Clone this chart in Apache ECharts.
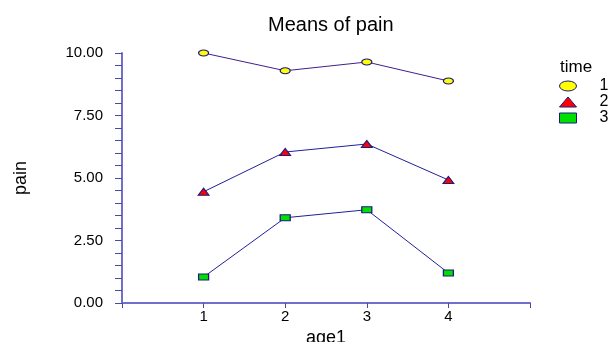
<!DOCTYPE html>
<html><head><meta charset="utf-8">
<script src="https://cdn.jsdelivr.net/npm/echarts@6/dist/echarts.min.js"></script>
<style>html,body{margin:0;padding:0;background:#fff}#c{width:614px;height:342px}</style>
</head><body><div id="c"></div>
<script>
const ages = [1, 2, 3, 4];
const time1 = [10.0, 9.29, 9.64, 8.88];
const time2 = [4.45, 6.04, 6.36, 4.92];
const time3 = [1.04, 3.41, 3.73, 1.2];
const seriesNames = ['1', '2', '3'];
const yTicks = [0, 2.5, 5, 7.5, 10];

const chart = echarts.init(document.getElementById('c'));
const font = 'Liberation Sans, Arial, sans-serif';
function pts(vals){ return ages.map((a,i)=>[a, vals[i]]); }
const axisCol = '#7070cc';
const tickCol = '#4848a8';
chart.setOption({
  animation: false,
  title: [{
    text: 'Means of pain', left: 263, top: 10,
    textStyle: {fontFamily: font, fontWeight: 'normal', fontSize: 20, color: '#000'}
  }, {
    text: 'time', left: 555, top: 54,
    textStyle: {fontFamily: font, fontWeight: 'normal', fontSize: 17, color: '#000'}
  }],
  grid: {left: 122, right: 84, top: 53, bottom: 39, containLabel: false, outerBoundsMode: 'none'},
  legend: {
    orient: 'vertical', left: 554, top: 73, itemGap: 0, itemWidth: 17, itemHeight: 10,
    itemStyle: {borderWidth: 1},
    data: [
      {name: seriesNames[0], icon: 'path://M0,5 A8.5,5 0 1,0 17,5 A8.5,5 0 1,0 0,5 Z'},
      {name: seriesNames[1], icon: 'triangle'},
      {name: seriesNames[2], icon: 'rect'}
    ],
    textStyle: {fontFamily: font, fontSize: 16, lineHeight: 16, color: '#000', padding: [0,0,0,18]}
  },
  xAxis: {
    type: 'value', min: 0, max: 5, interval: 1,
    name: 'age1', nameLocation: 'middle', nameGap: 22,
    nameTextStyle: {fontFamily: font, fontSize: 18, color: '#000'},
    axisLine: {lineStyle: {color: axisCol, width: 2}},
    axisTick: {show: true, length: 5, lineStyle: {color: tickCol}},
    axisLabel: {fontFamily: font, fontSize: 15, color: '#000', margin: 6,
      formatter: v => ages.indexOf(v) >= 0 ? String(v) : ''},
    splitLine: {show: false}
  },
  yAxis: {
    type: 'value', min: yTicks[0], max: yTicks[yTicks.length-1], interval: 2.5,
    name: 'pain', nameLocation: 'middle', nameGap: 92, nameRotate: 90,
    nameTextStyle: {fontFamily: font, fontSize: 18, color: '#000'},
    axisLine: {show: true, lineStyle: {color: axisCol, width: 2}},
    axisTick: {show: true, length: 7, lineStyle: {color: tickCol}},
    minorTick: {show: true, splitNumber: 5, length: 7, lineStyle: {color: tickCol}},
    axisLabel: {fontFamily: font, fontSize: 15, color: '#000', margin: 19,
      formatter: v => v.toFixed(2)},
    splitLine: {show: false}
  },
  series: [
    {name: seriesNames[0], type: 'line', data: pts(time1), symbol: 'circle', symbolSize: [10, 6],
     lineStyle: {color: '#402088', width: 1}, itemStyle: {color: '#ffff00', borderColor: '#1a1a80', borderWidth: 1}},
    {name: seriesNames[1], type: 'line', data: pts(time2), symbol: 'triangle', symbolSize: [11, 7],
     lineStyle: {color: '#20209a', width: 1}, itemStyle: {color: '#ff0000', borderColor: '#1a1a80', borderWidth: 1}},
    {name: seriesNames[2], type: 'line', data: pts(time3), symbol: 'rect', symbolSize: [10, 6],
     lineStyle: {color: '#20209a', width: 1}, itemStyle: {color: '#00e000', borderColor: '#1a1a80', borderWidth: 1}}
  ]
});
</script></body></html>
